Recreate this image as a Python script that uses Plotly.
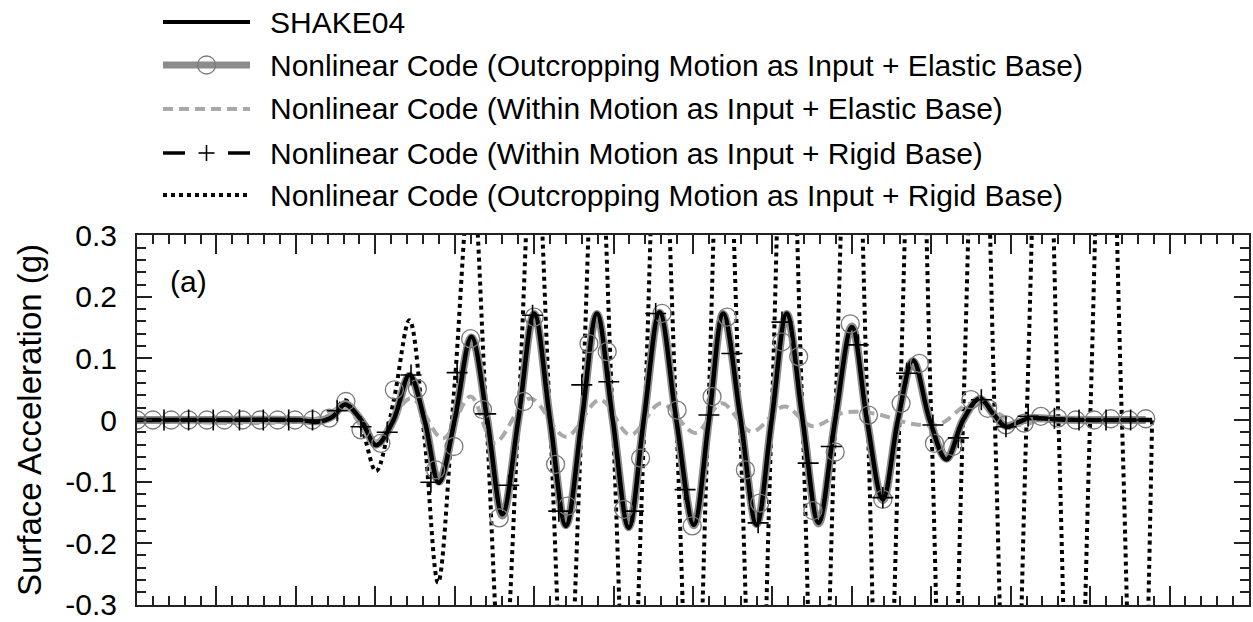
import plotly.graph_objects as go

# ---------------- data (time in s, acceleration in g) ----------------
shake_t = [0.00, 1.00, 2.04, 2.27, 2.46, 2.62, 2.82, 3.01, 3.23, 3.43, 3.62, 3.80, 4.00,
           4.21, 4.41, 4.60, 4.80, 5.00, 5.20, 5.40, 5.60, 5.79, 5.99, 6.19, 6.38,
           6.58, 6.79, 7.01, 7.20, 7.38, 7.60, 7.80, 7.99, 8.18, 8.38, 8.58, 8.79,
           9.00, 9.19, 9.39, 9.58, 9.77, 9.98, 10.19, 10.40, 10.61, 10.78, 10.94,
           11.09, 11.24, 11.59, 12.78]
shake_a = [0.000, 0.000, 0.000, -0.003, 0.005, 0.025, 0.000, -0.041, 0.000, 0.073, 0.000, -0.102, 0.000,
           0.135, 0.000, -0.153, 0.000, 0.173, 0.000, -0.172, 0.000, 0.173, 0.000, -0.175, 0.000,
           0.175, 0.000, -0.170, 0.000, 0.173, 0.000, -0.170, 0.000, 0.173, 0.000, -0.167, 0.000,
           0.151, 0.000, -0.129, 0.000, 0.097, 0.000, -0.064, 0.000, 0.035, 0.010, -0.011,
           -0.004, 0.003, 0.001, 0.000]

# Nonlinear code, outcropping motion as input + elastic base
oe_t = [0.00, 1.00, 2.04, 2.27, 2.46, 2.62, 2.82, 3.01, 3.23, 3.43, 3.62, 3.80, 4.00,
        4.21, 4.41, 4.60, 4.80, 5.00, 5.20, 5.40, 5.60, 5.79, 5.99, 6.19, 6.38,
        6.58, 6.79, 7.01, 7.20, 7.38, 7.60, 7.80, 7.99, 8.18, 8.38, 8.58, 8.79,
        9.00, 9.19, 9.39, 9.58, 9.77, 9.98, 10.19, 10.40, 10.61, 10.78, 10.94,
        11.09, 11.24, 11.59, 12.70]
oe_a = [0.000, 0.000, 0.000, -0.002, 0.006, 0.026, 0.000, -0.040, 0.000, 0.072, 0.000, -0.100, 0.000,
        0.134, 0.000, -0.155, 0.000, 0.172, 0.000, -0.171, 0.000, 0.172, 0.000, -0.174, 0.000,
        0.174, 0.000, -0.171, 0.000, 0.172, 0.000, -0.169, 0.000, 0.172, 0.000, -0.168, 0.000,
        0.152, 0.000, -0.130, 0.000, 0.096, 0.000, -0.063, 0.000, 0.034, 0.010, -0.010,
        -0.004, 0.003, 0.001, 0.000]
oe_mark_t = [0.00, 0.20, 0.43, 0.65, 0.88, 1.10, 1.33, 1.55, 1.77, 1.99, 2.21, 2.42,
             2.63, 2.82, 3.07, 3.24, 3.53, 3.76, 3.99, 4.20, 4.35, 4.56, 4.87, 5.00,
             5.27, 5.42, 5.69, 5.92, 6.13, 6.34, 6.61, 6.80, 6.99, 7.24, 7.43, 7.66,
             7.84, 8.12, 8.33, 8.51, 8.79, 8.98, 9.21, 9.39, 9.62, 9.85, 10.04, 10.27,
             10.50, 10.71, 10.94, 11.17, 11.38, 11.59, 11.82, 12.05, 12.26, 12.49, 12.70]
oe_mark_a = [0.000, 0.000, 0.000, 0.000, 0.000, 0.000, 0.000, 0.000, 0.000, 0.000, 0.000, 0.003,
             0.030, -0.016, -0.038, 0.049, 0.051, -0.081, -0.043, 0.132, 0.017, -0.159, 0.030, 0.167,
             -0.072, -0.140, 0.124, 0.111, -0.145, -0.062, 0.173, 0.016, -0.172, 0.038, 0.167, -0.081,
             -0.135, 0.127, 0.103, -0.147, -0.052, 0.156, 0.008, -0.129, 0.027, 0.092, -0.038, -0.043,
             0.033, 0.019, -0.008, -0.005, 0.006, 0.003, 0.000, 0.000, 0.002, 0.000, 0.002]

# Nonlinear code, within motion as input + elastic base
we_t = [0.00, 2.20, 2.62, 3.00, 3.45, 3.85, 4.20, 4.50, 4.95, 5.40, 5.83, 6.21, 6.60,
        7.03, 7.36, 7.74, 8.15, 8.50, 8.90, 9.30, 9.75, 10.10, 10.50, 10.85, 11.10,
        11.40, 12.78]
we_a = [0.000, 0.000, 0.020, -0.035, 0.035, -0.030, 0.038, -0.037, 0.035, -0.027, 0.033, -0.024, 0.027,
        -0.021, 0.027, -0.019, 0.022, -0.010, 0.012, 0.010, -0.006, -0.007, 0.027, 0.010, -0.008,
        0.000, 0.000]

# Nonlinear code, within motion as input + rigid base
wr_t = shake_t[:]
wr_a = [0.000, 0.000, 0.000, -0.003, 0.006, 0.024, 0.000, -0.040, 0.000, 0.074, 0.000, -0.103, 0.000,
        0.134, 0.000, -0.152, 0.000, 0.172, 0.000, -0.171, 0.000, 0.173, 0.000, -0.174, 0.000,
        0.175, 0.000, -0.171, 0.000, 0.172, 0.000, -0.170, 0.000, 0.172, 0.000, -0.166, 0.000,
        0.150, 0.000, -0.128, 0.000, 0.097, 0.000, -0.065, 0.000, 0.034, 0.010, -0.011,
        -0.004, 0.003, 0.001, 0.000]
wr_mark_t = [0.34, 0.65, 0.96, 1.29, 1.59, 1.91, 2.21, 2.52, 2.82, 3.15, 3.45, 3.70, 4.03,
             4.39, 4.68, 4.98, 5.31, 5.60, 5.94, 6.25, 6.53, 6.90, 7.20, 7.49, 7.82, 8.12,
             8.45, 8.74, 9.08, 9.39, 9.69, 10.02, 10.34, 10.63, 10.94, 11.22, 11.55, 11.86,
             12.20, 12.51]
wr_mark_a = [0.000, 0.000, 0.000, 0.000, 0.000, 0.000, 0.000, 0.015, -0.011, -0.020, 0.073, -0.101, 0.077,
             0.010, -0.106, 0.170, -0.148, 0.057, 0.062, -0.148, 0.173, -0.113, 0.008, 0.108, -0.167, 0.159,
             -0.070, -0.043, 0.122, -0.126, 0.076, -0.008, -0.029, 0.033, -0.011, 0.006, 0.003, 0.000,
             0.000, 0.000]

# Nonlinear code, outcropping motion as input + rigid base (peaks run past the axis limits)
or_t = [0.00, 2.04, 2.27, 2.46, 2.62, 2.82, 3.01, 3.23, 3.43, 3.62, 3.79, 4.00, 4.21,
        4.40, 4.60, 4.80, 5.00, 5.20, 5.40, 5.60, 5.79, 5.99, 6.19, 6.39, 6.58, 6.79,
        7.00, 7.19, 7.38, 7.59, 7.80, 7.99, 8.18, 8.38, 8.58, 8.79, 9.00, 9.20, 9.39,
        9.60, 9.81, 10.00, 10.20, 10.40, 10.61, 10.80, 11.00, 11.20, 11.41, 11.60, 11.80,
        12.00, 12.20, 12.40, 12.60, 12.78]
or_a = [0.000, 0.000, -0.003, 0.010, 0.032, -0.010, -0.083, 0.030, 0.162, -0.030, -0.264, 0.060, 0.410,
        0.000, -0.450, 0.000, 0.500, 0.000, -0.530, 0.000, 0.560, 0.000, -0.590, 0.000, 0.620, 0.000,
        -0.650, 0.000, 0.680, 0.000, -0.700, 0.000, 0.720, 0.000, -0.740, 0.000, 0.760, 0.000, -0.780,
        0.000, 0.790, 0.000, -0.800, 0.000, 0.800, 0.000, -0.800, 0.000, 0.800, 0.000, -0.800,
        0.000, 0.800, 0.000, -0.800, 0.000]

y_ticks = [0.3, 0.2, 0.1, 0.0, -0.1, -0.2, -0.3]
y_tick_text = ["0.3", "0.2", "0.1", "0", "-0.1", "-0.2", "-0.3"]

legend_names = [
    "SHAKE04",
    "Nonlinear Code (Outcropping Motion as Input + Elastic Base)",
    "Nonlinear Code (Within Motion as Input + Elastic Base)",
    "Nonlinear Code (Within Motion as Input + Rigid Base)",
    "Nonlinear Code (Outcropping Motion as Input + Rigid Base)",
]

FONT = "Liberation Sans, Arial, sans-serif"
GREY = "#8c8c8c"
LIGHT = "#a9a9a9"

fig = go.Figure()

fig.add_trace(go.Scatter(x=or_t, y=or_a, mode="lines", name=legend_names[4],
                         line=dict(color="black", width=4, dash="4px,4px", shape="spline", smoothing=1)))
fig.add_trace(go.Scatter(x=oe_t, y=oe_a, mode="lines", name=legend_names[1],
                         line=dict(color=GREY, width=8, shape="spline", smoothing=1)))
fig.add_trace(go.Scatter(x=we_t, y=we_a, mode="lines", name=legend_names[2],
                         line=dict(color=LIGHT, width=4, dash="10px,6px", shape="spline", smoothing=1)))
fig.add_trace(go.Scatter(x=wr_t, y=wr_a, mode="lines", name=legend_names[3],
                         line=dict(color="black", width=3, dash="18px,10px", shape="spline", smoothing=1)))
fig.add_trace(go.Scatter(x=shake_t, y=shake_a, mode="lines", name=legend_names[0],
                         line=dict(color="black", width=4.5, shape="spline", smoothing=1)))
fig.add_trace(go.Scatter(x=oe_mark_t, y=oe_mark_a, mode="markers", name=legend_names[1],
                         marker=dict(symbol="circle-open", size=18, color="#7a7a7a",
                                     line=dict(color="#7a7a7a", width=1.3))))
fig.add_trace(go.Scatter(x=wr_mark_t, y=wr_mark_a, mode="markers", name=legend_names[3],
                         marker=dict(symbol="cross-thin-open", size=15, color="black",
                                     line=dict(color="black", width=1.6))))

# ---- legend drawn in pixel space above the axes ----
L, W, T, B = 137, 1112, 235, 605
H = B - T


def px(x):
    return (x - L) / W


def py(y):
    return (B - y) / H


rows = [22, 65, 109, 153, 195]
x0, x1, xt = 163, 250, 268
xm = (x0 + x1) / 2
shapes = []
annotations = []


def seg(xa, xb, y, color, width, dash="solid"):
    shapes.append(dict(type="line", xref="paper", yref="paper", x0=px(xa), x1=px(xb),
                       y0=py(y), y1=py(y), line=dict(color=color, width=width, dash=dash)))


seg(x0, x1, rows[0], "black", 4)
seg(x0, x1, rows[1], GREY, 7)
shapes.append(dict(type="circle", xref="paper", yref="paper",
                   x0=px(xm - 9), x1=px(xm + 9), y0=py(rows[1] + 9), y1=py(rows[1] - 9),
                   line=dict(color="#7a7a7a", width=1.3)))
seg(x0, x1, rows[2], LIGHT, 4, "10px,6px")
seg(x0, x0 + 22, rows[3], "black", 3.5)
seg(x1 - 22, x1, rows[3], "black", 3.5)
seg(xm - 8, xm + 8, rows[3], "black", 1.6)
shapes.append(dict(type="line", xref="paper", yref="paper", x0=px(xm), x1=px(xm),
                   y0=py(rows[3] - 8), y1=py(rows[3] + 8), line=dict(color="black", width=1.6)))
seg(x0, x1, rows[4], "black", 4, "4px,4px")

for name, y in zip(legend_names, rows):
    annotations.append(dict(text=name, xref="paper", yref="paper", x=px(xt), y=py(y),
                            xanchor="left", yanchor="middle", showarrow=False,
                            font=dict(family=FONT, size=30, color="black")))

annotations.append(dict(text="(a)", xref="paper", yref="paper", x=px(188), y=py(281),
                        xanchor="center", yanchor="middle", showarrow=False,
                        font=dict(family=FONT, size=30, color="black")))

fig.update_layout(
    width=1253, height=622,
    margin=dict(l=L, r=1253 - L - W, t=T, b=622 - B),
    paper_bgcolor="white", plot_bgcolor="white",
    showlegend=False,
    shapes=shapes, annotations=annotations,
    font=dict(family=FONT, color="black"),
)
fig.update_xaxes(range=[0, 14], showticklabels=False, showgrid=False, zeroline=False,
                 automargin=False,
                 ticks="inside", tick0=0, dtick=1, ticklen=19, tickwidth=2, tickcolor="#222",
                 minor=dict(ticks="inside", dtick=0.2, ticklen=9, tickwidth=2, tickcolor="#222"),
                 showline=True, linecolor="#222", linewidth=2, mirror="allticks")
fig.update_yaxes(range=[-0.3004, 0.3004], tickvals=y_ticks, ticktext=y_tick_text,
                 showgrid=False, zeroline=False, automargin=False, ticklabeloverflow="allow",
                 ticks="inside", ticklen=15, tickwidth=2, tickcolor="#222",
                 minor=dict(ticks="inside", tick0=0, dtick=0.02, ticklen=9, tickwidth=2, tickcolor="#222"),
                 showline=True, linecolor="#222", linewidth=2, mirror="allticks",
                 tickfont=dict(family=FONT, size=30, color="black"), ticklabelstandoff=12,
                 title=dict(text="Surface Acceleration (g)", standoff=14,
                            font=dict(family=FONT, size=33, color="black")))

fig.write_html("out.html")
